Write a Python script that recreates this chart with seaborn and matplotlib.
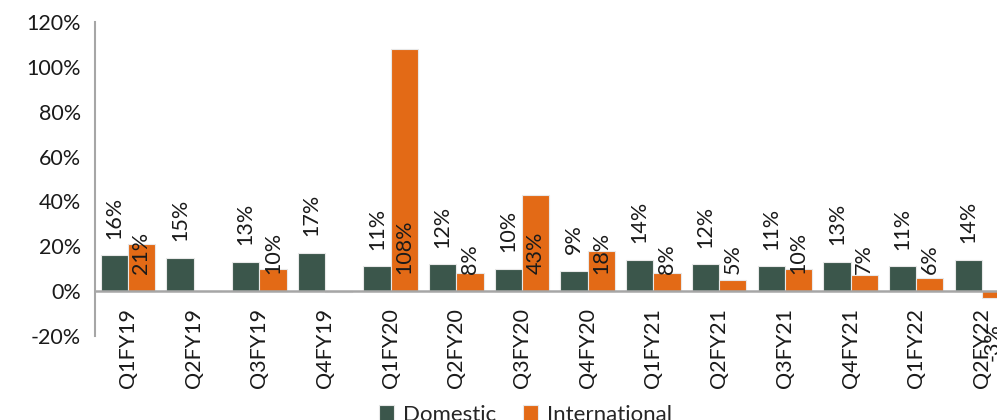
import matplotlib
matplotlib.use("Agg")
import matplotlib.pyplot as plt
import seaborn as sns
import pandas as pd

quarters = ["Q1FY19", "Q2FY19", "Q3FY19", "Q4FY19", "Q1FY20", "Q2FY20", "Q3FY20",
            "Q4FY20", "Q1FY21", "Q2FY21", "Q3FY21", "Q4FY21", "Q1FY22", "Q2FY22"]
domestic = [16, 15, 13, 17, 11, 12, 10, 9, 14, 12, 11, 13, 11, 14]
international = [21, 0, 10, -0.5, 108, 8, 43, 18, 8, 5, 10, 7, 6, -3]
domestic_labels = ["16%", "15%", "13%", "17%", "11%", "12%", "10%", "9%", "14%", "12%",
                   "11%", "13%", "11%", "14%"]
international_labels = ["21%", "", "10%", "", "108%", "8%", "43%", "18%", "8%", "5%",
                        "10%", "7%", "6%", "-3%"]
series_names = ["Domestic", "International"]
colors = ["#3B564B", "#E36A16"]

df = pd.DataFrame({
    "quarter": quarters * 2,
    "value": [v / 100 for v in domestic] + [v / 100 for v in international],
    "series": [series_names[0]] * len(quarters) + [series_names[1]] * len(quarters),
})

sns.set_style("white")
plt.rcParams["font.family"] = ["Lato", "DejaVu Sans"]

FS = 15.5

fig = plt.figure(figsize=(9.97, 4.2), dpi=100)
ax = fig.add_axes([0.0953, 0.2, 1.0 - 0.0953, 0.7476])

sns.barplot(data=df, x="quarter", y="value", hue="series", palette=colors,
            saturation=1, width=0.83, edgecolor="#e8e8e8", linewidth=0.8, ax=ax,
            legend=True)

ax.set_ylim(-0.2, 1.2)
ax.set_xlim(-0.5, 13.23)
ax.set_yticks([-0.2, 0, 0.2, 0.4, 0.6, 0.8, 1.0, 1.2])
ax.set_yticklabels(["-20%", "0%", "20%", "40%", "60%", "80%", "100%", "120%"],
                   fontsize=FS, color="#1a1a1a")
ax.set_xlabel("")
ax.set_ylabel("")

for s in ["top", "right"]:
    ax.spines[s].set_visible(False)
ax.spines["left"].set_color("#a6a6a6")
ax.spines["left"].set_linewidth(1.5)
ax.spines["bottom"].set_position(("data", 0))
ax.spines["bottom"].set_color("#a6a6a6")
ax.spines["bottom"].set_linewidth(1.8)
ax.spines["bottom"].set_zorder(5)

ax.tick_params(axis="x", length=0, pad=12, labelsize=FS, labelcolor="#1a1a1a",
               labelrotation=90)
ax.tick_params(axis="y", length=0, pad=10)

dom_bars = ax.containers[0]
int_bars = ax.containers[1]

for bar, lab in zip(dom_bars, domestic_labels):
    x = bar.get_x() + bar.get_width() / 2
    ax.annotate(lab, (x, bar.get_height()), xytext=(0, 12), textcoords="offset points",
                rotation=90, ha="center", va="bottom", fontsize=FS, color="#1a1a1a")

for bar, lab, v in zip(int_bars, international_labels, international):
    if not lab:
        continue
    x = bar.get_x() + bar.get_width() / 2
    if v >= 0:
        ax.text(x, 0.075, lab, rotation=90, ha="center", va="bottom", fontsize=FS,
                color="#1a1a1a")
    else:
        ax.annotate(lab, (x - 0.05, v / 100), xytext=(0, -18), textcoords="offset points",
                    rotation=90, ha="center", va="top", fontsize=FS, color="#1a1a1a",
                    annotation_clip=False)

handles, labels = ax.get_legend_handles_labels()
ax.legend_.remove()
fig.legend(handles, labels, loc="center", bbox_to_anchor=(0.527, 0.012), ncol=2,
           frameon=False, fontsize=16, handlelength=0.7, handleheight=0.7,
           columnspacing=1.2, handletextpad=0.4)

fig.savefig("out.png", dpi=100)
